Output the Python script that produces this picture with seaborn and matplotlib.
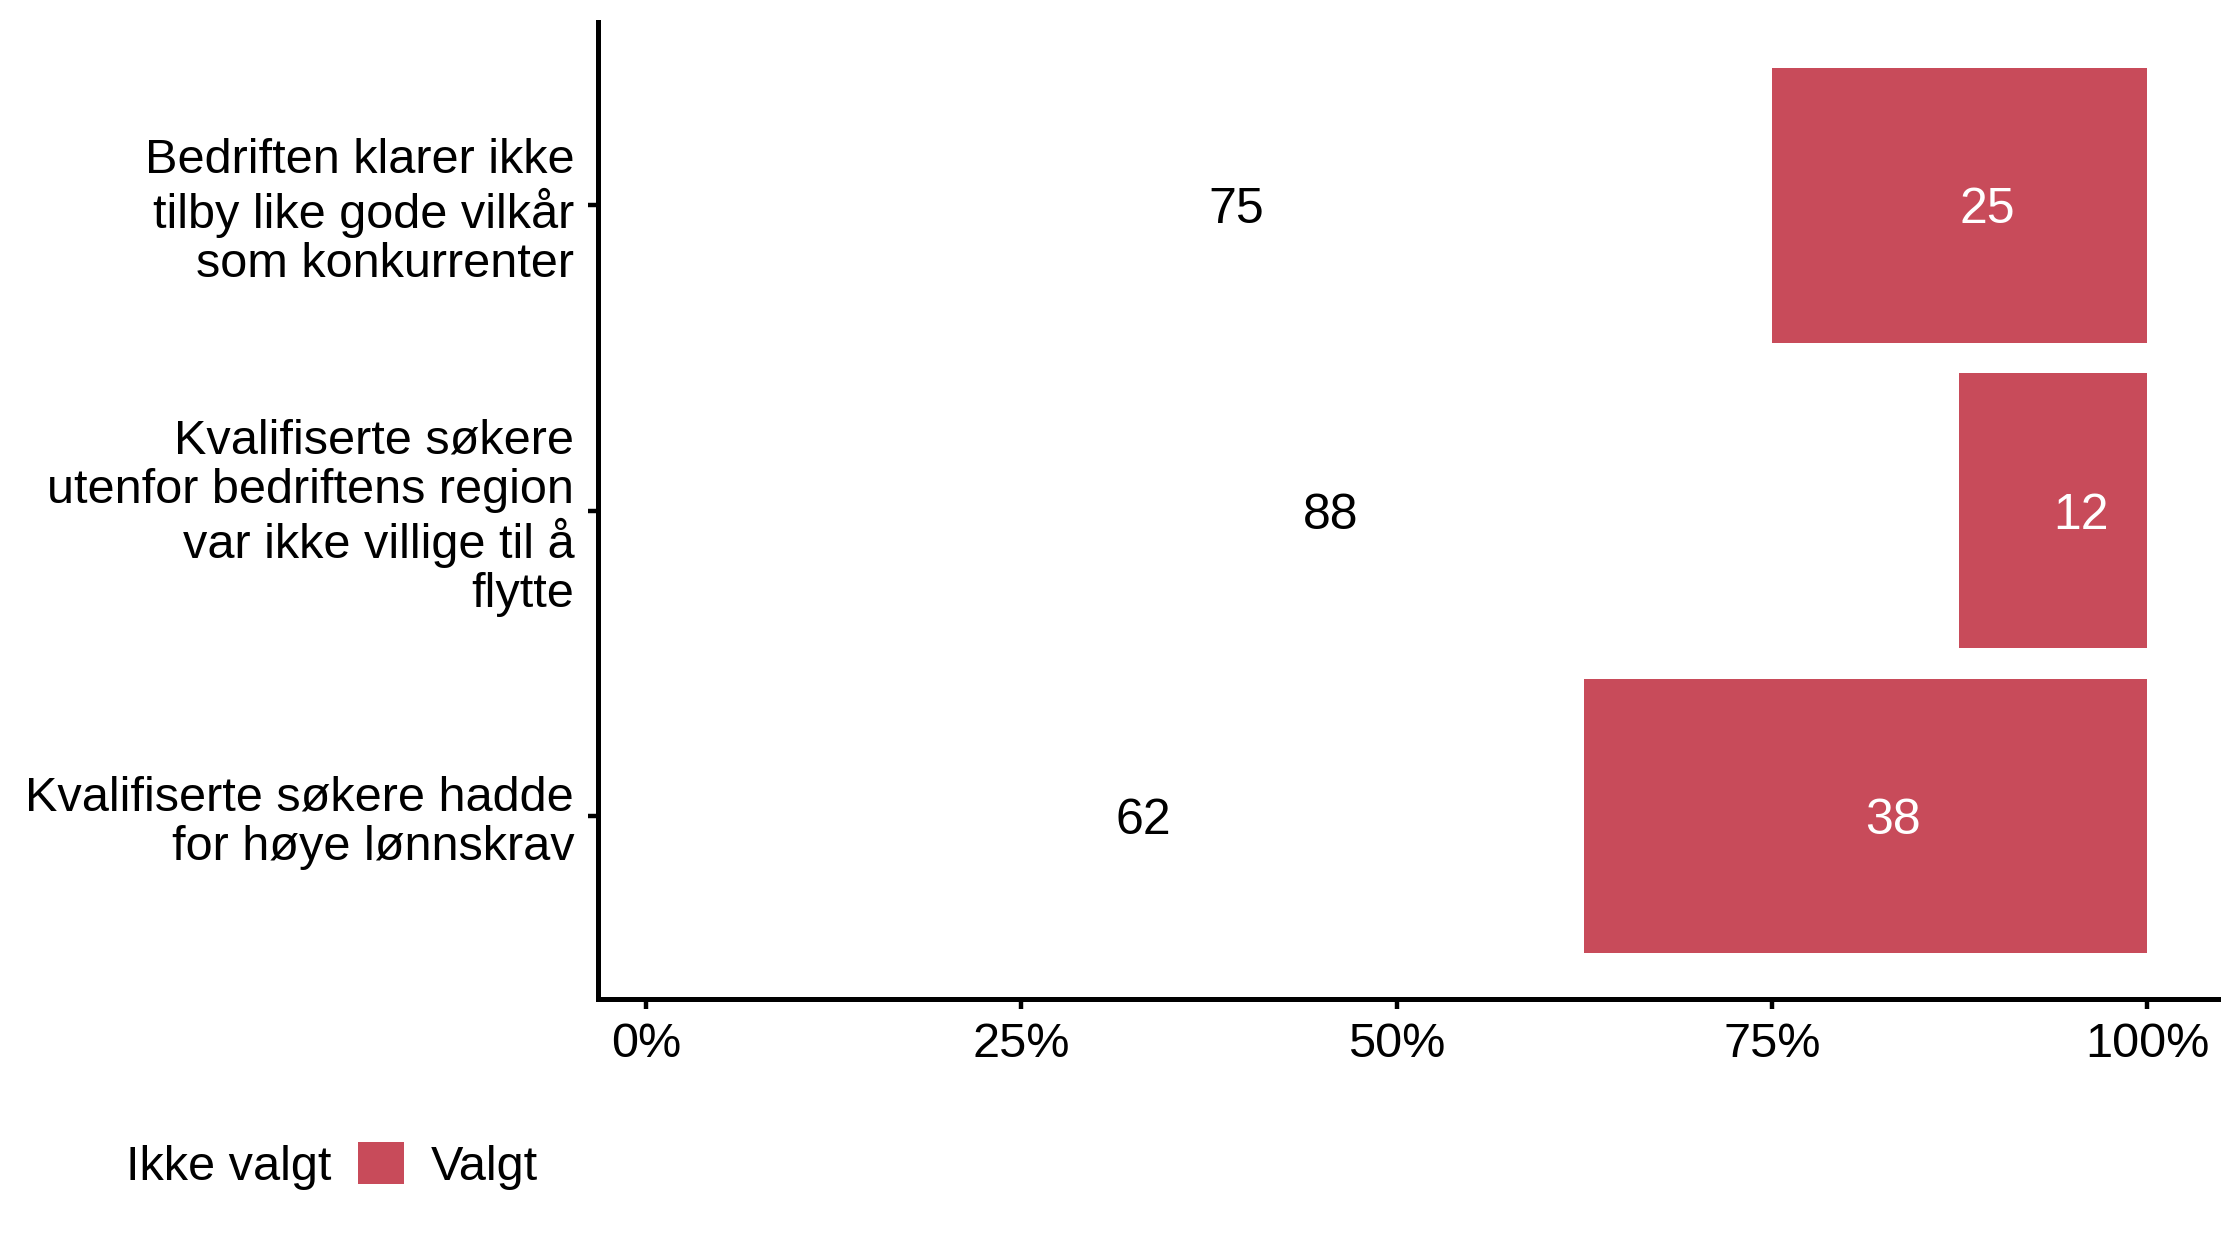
import matplotlib
matplotlib.use("Agg")
import matplotlib.pyplot as plt
from matplotlib.patches import Patch
import seaborn as sns
import pandas as pd

# Data
categories = [
    "Bedriften klarer ikke\ntilby like gode vilkår\nsom konkurrenter",
    "Kvalifiserte søkere\nutenfor bedriftens region\nvar ikke villige til å\nflytte",
    "Kvalifiserte søkere hadde\nfor høye lønnskrav",
]
ikke_valgt = [75.0, 87.5, 62.5]
valgt = [25.0, 12.5, 37.5]
x_ticks = [0, 25, 50, 75, 100]
x_tick_labels = ["0%", "25%", "50%", "75%", "100%"]

RED = "#C84B5A"
FS = 17.5

sns.set_theme(style="ticks")
plt.rcParams["font.family"] = ["Liberation Sans", "DejaVu Sans"]
plt.rcParams["text.color"] = "black"

df = pd.DataFrame({
    "kategori": categories,
    "ikke": ikke_valgt,
    "valgt": valgt,
})
df["total"] = df["ikke"] + df["valgt"]

fig = plt.figure(figsize=(11.2, 6.19), dpi=200)
ax = fig.add_axes([0.267, 0.193, 0.723, 0.789])

# stablede stolper: rødt for total, hvitt for "Ikke valgt" oppå
sns.barplot(data=df, x="total", y="kategori", orient="h", color=RED,
            saturation=1, width=0.9, linewidth=0, ax=ax)
sns.barplot(data=df, x="ikke", y="kategori", orient="h", color="white",
            saturation=1, width=0.9, linewidth=0, ax=ax)

# verdietiketter
for i, row in df.iterrows():
    ax.annotate(f"{round(row['ikke'])}", (row["ikke"] / 2, i),
                xytext=(10, 0), textcoords="offset points",
                ha="center", va="center_baseline", fontsize=18, color="black")
    ax.annotate(f"{round(row['valgt'])}", (row["ikke"] + row["valgt"] / 2, i),
                xytext=(10, 0), textcoords="offset points",
                ha="center", va="center_baseline", fontsize=18, color="white")

ax.set_xlim(-3.2, 104.7)
ax.set_ylim(2.6, -0.6)
ax.set_xticks(x_ticks)
ax.set_xticklabels(x_tick_labels, fontsize=FS, color="black")
ax.set_yticks(range(len(categories)))
ax.set_yticklabels(categories, fontsize=FS, color="black", linespacing=1.12)
ax.set_xlabel("")
ax.set_ylabel("")

for side in ["top", "right"]:
    ax.spines[side].set_visible(False)
for side in ["left", "bottom"]:
    ax.spines[side].set_linewidth(1.8)
    ax.spines[side].set_color("black")
ax.tick_params(axis="both", length=3.6, width=1.6, color="black")
ax.tick_params(axis="x", pad=4.5)
ax.tick_params(axis="y", pad=5)

handles = [Patch(facecolor="white", edgecolor="none", label="Ikke valgt"),
           Patch(facecolor=RED, edgecolor="none", label="Valgt")]
fig.legend(handles=handles, loc="center left", ncol=2, frameon=False,
           bbox_to_anchor=(53 / 2240, 1 - 1166 / 1238), fontsize=FS,
           handlelength=0.95, handleheight=0.95, handletextpad=0.55,
           columnspacing=0.55, borderpad=0, borderaxespad=0,
           labelcolor="black")

fig.savefig("out.png", dpi=200, facecolor="white")
